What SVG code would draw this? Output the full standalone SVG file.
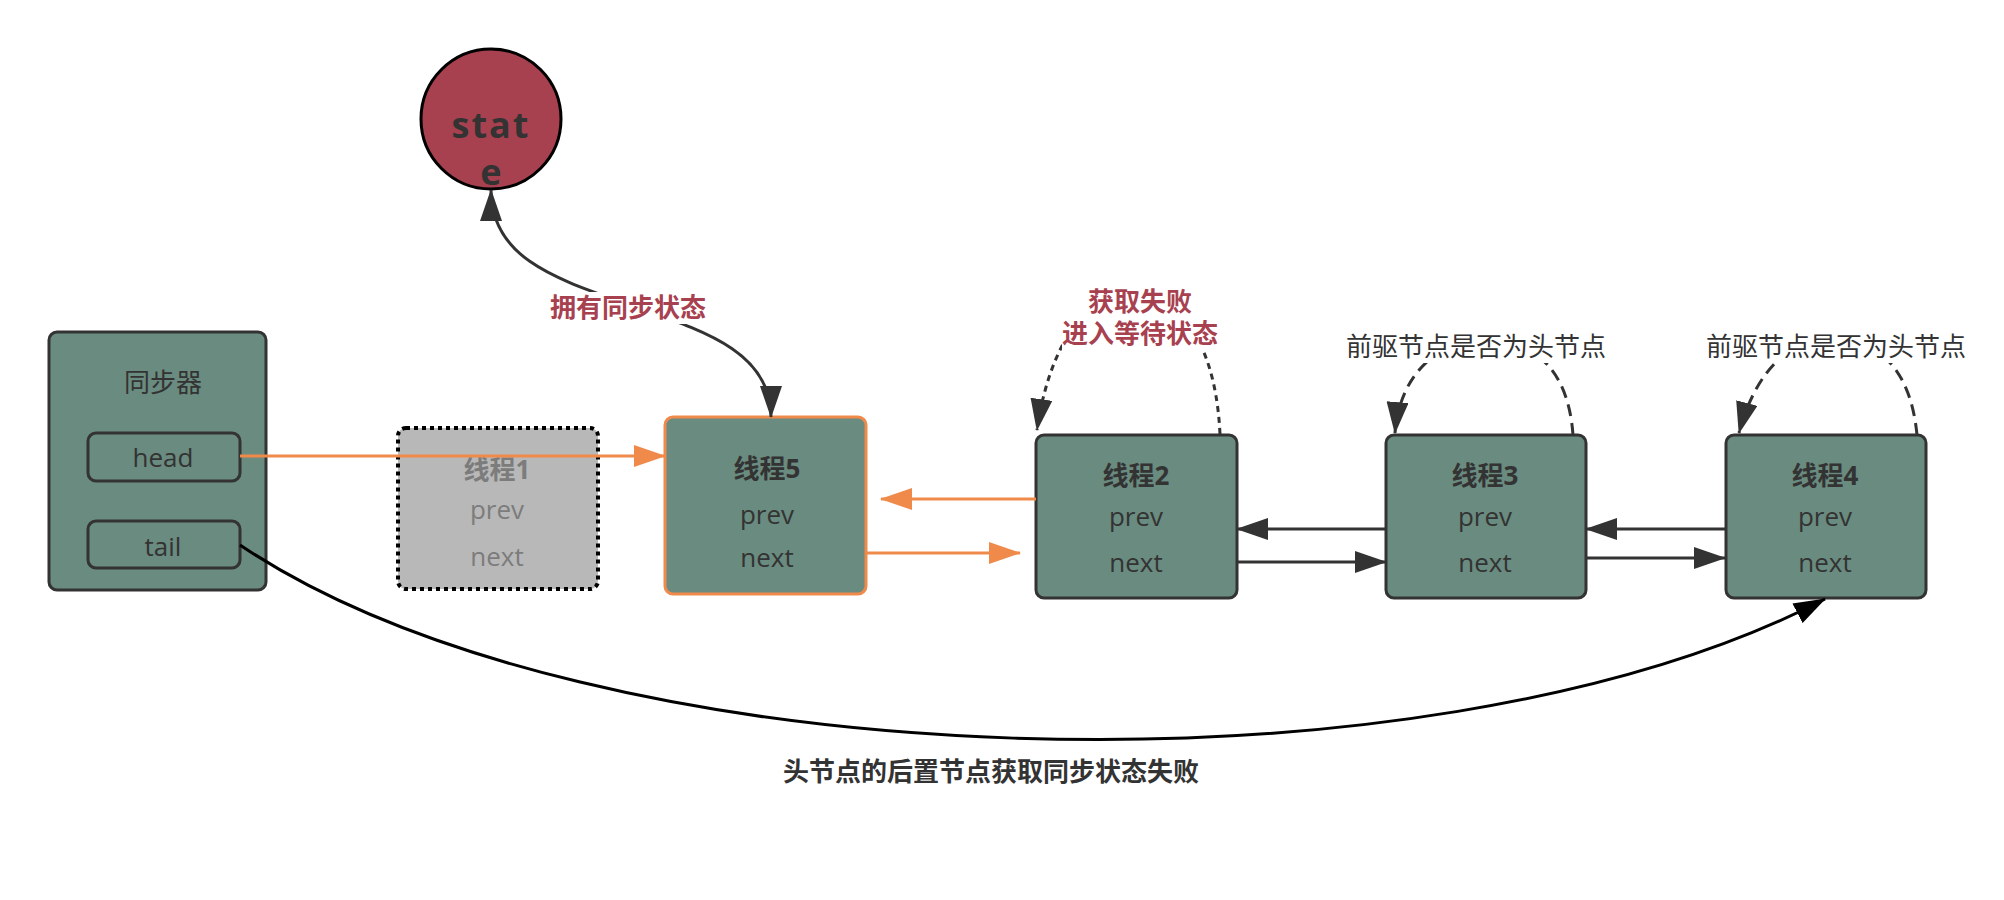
<svg xmlns="http://www.w3.org/2000/svg" width="2004" height="900" viewBox="0 0 2004 900">
<style>
text{font-family:"Open Sans","Noto Sans CJK SC",sans-serif;font-size:26px;text-anchor:middle;fill:#333}
.b{font-weight:bold}
.node{fill:#6a8b7f;stroke:#333;stroke-width:3}
.red{fill:#a8414f;font-weight:bold}
.gray{fill:#7c7c7c}
.bg{fill:#fff}
.dk{fill:none;stroke:#333;stroke-width:3}
.or{fill:none;stroke:#f08a4b;stroke-width:3}
</style>
<defs>
<marker id="ad" markerUnits="userSpaceOnUse" markerWidth="32" markerHeight="22" viewBox="0 0 32 22" refX="31" refY="11" orient="auto-start-reverse"><path d="M0,0 L32,11 L0,22 z" fill="#333"/></marker>
<marker id="ab" markerUnits="userSpaceOnUse" markerWidth="32" markerHeight="22" viewBox="0 0 32 22" refX="31" refY="11" orient="auto"><path d="M0,0 L32,11 L0,22 z" fill="#000"/></marker>
<marker id="ao" markerUnits="userSpaceOnUse" markerWidth="32" markerHeight="22" viewBox="0 0 32 22" refX="31" refY="11" orient="auto"><path d="M0,0 L32,11 L0,22 z" fill="#f08a4b"/></marker>
</defs>
<rect width="2004" height="900" fill="#fff"/>

<g id="state">
<circle cx="491" cy="119" r="70" fill="#a8414f" stroke="#000" stroke-width="3"/>
<text class="b" x="491" y="138" style="font-size:36px;letter-spacing:2px">stat</text>
<text class="b" x="491" y="185" style="font-size:36px">e</text>
</g>

<g id="sync">
<rect class="node" x="49" y="332" width="217" height="258" rx="8"/>
<text x="163" y="392">同步器</text>
<rect class="node" x="88" y="433" width="152" height="48" rx="8"/>
<text x="163" y="467">head</text>
<rect class="node" x="88" y="521" width="152" height="47" rx="8"/>
<text x="163" y="556">tail</text>
</g>

<g id="t1">
<rect x="398" y="428" width="200" height="161" rx="8" fill="#b8b8b8" stroke="#000" stroke-width="4" stroke-dasharray="4 4"/>
<text class="b gray" x="497" y="479">线程1</text>
<text class="gray" x="497" y="519">prev</text>
<text class="gray" x="497" y="566">next</text>
</g>

<g id="t5">
<rect class="node" x="665" y="417" width="201" height="177" rx="8" style="stroke:#f08a4b"/>
<text class="b" x="767" y="478">线程5</text>
<text x="767" y="524">prev</text>
<text x="767" y="567">next</text>
</g>

<g id="t2">
<rect class="node" x="1036" y="435" width="201" height="163" rx="8"/>
<text class="b" x="1136" y="485">线程2</text>
<text x="1136" y="526">prev</text>
<text x="1136" y="572">next</text>
</g>

<g id="t3">
<rect class="node" x="1386" y="435" width="200" height="163" rx="8"/>
<text class="b" x="1485" y="485">线程3</text>
<text x="1485" y="526">prev</text>
<text x="1485" y="572">next</text>
</g>

<g id="t4">
<rect class="node" x="1726" y="435" width="200" height="163" rx="8"/>
<text class="b" x="1825" y="485">线程4</text>
<text x="1825" y="526">prev</text>
<text x="1825" y="572">next</text>
</g>

<g id="connectors">
<path class="or" d="M240,456 L665,456" marker-end="url(#ao)"/>
<path class="or" d="M1036,499 L881,499" marker-end="url(#ao)"/>
<path class="or" d="M865,553 L1020,553" marker-end="url(#ao)"/>
<path class="dk" d="M1386,529 L1237,529" marker-end="url(#ad)"/>
<path class="dk" d="M1237,562 L1386,562" marker-end="url(#ad)"/>
<path class="dk" d="M1727,529 L1586,529" marker-end="url(#ad)"/>
<path class="dk" d="M1586,558 L1725,558" marker-end="url(#ad)"/>
<path class="dk" d="M771,417 C771,350 700,330 630,305 S491,260 491,190" marker-start="url(#ad)" marker-end="url(#ad)"/>
<path fill="none" stroke="#000" stroke-width="3" d="M240,545 C590,780 1425,807 1825,599" marker-end="url(#ab)"/>
<path class="dk" stroke-dasharray="6 5" d="M1220,434 C1215,330 1170,292 1130,292 C1090,292 1050,340 1037,430" marker-end="url(#ad)"/>
<path class="dk" stroke-dasharray="12 7" d="M1573,435 C1568,365 1530,340 1485,340 C1440,340 1400,372 1395,433" marker-end="url(#ad)"/>
<path class="dk" stroke-dasharray="12 7" d="M1917,435 C1910,362 1872,338 1830,338 C1790,338 1755,372 1739,433" marker-end="url(#ad)"/>
<rect class="bg" x="551" y="292" width="154" height="32"/>
<text class="red" x="628" y="317">拥有同步状态</text>
<rect class="bg" x="1062" y="286" width="156" height="64"/>
<text class="red" x="1140" y="311">获取失败</text>
<text class="red" x="1140" y="343">进入等待状态</text>
<rect class="bg" x="1346" y="330" width="260" height="33"/>
<text x="1476" y="356">前驱节点是否为头节点</text>
<rect class="bg" x="1706" y="330" width="260" height="33"/>
<text x="1836" y="356">前驱节点是否为头节点</text>
<text class="b" x="991" y="781">头节点的后置节点获取同步状态失败</text>
</g>
</svg>
